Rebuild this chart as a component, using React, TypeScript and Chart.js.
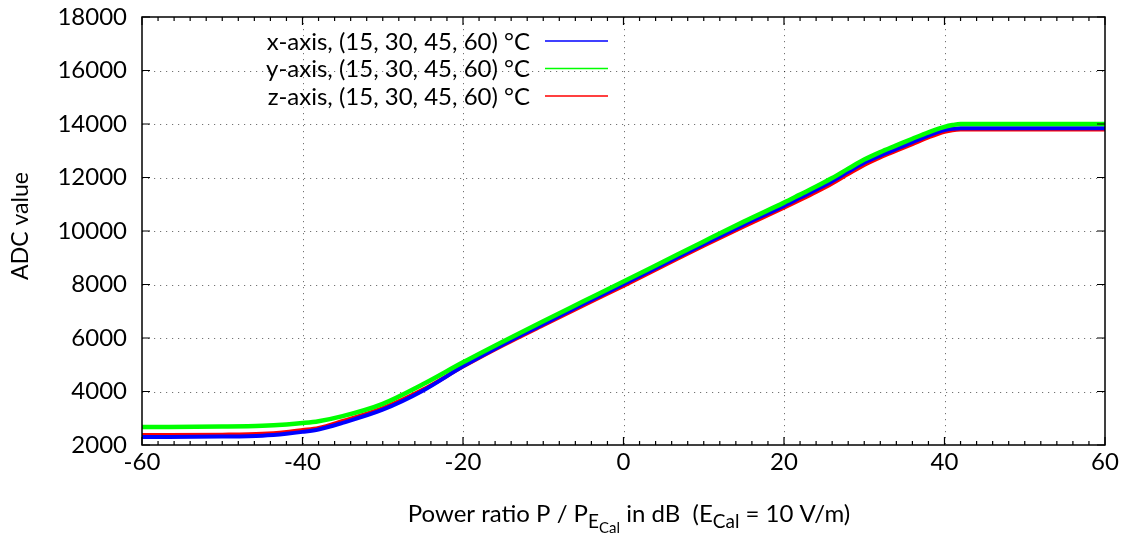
import React, { useEffect, useRef } from "react";
import { Chart, registerables } from "chart.js";

Chart.register(...registerables);

// Power ratio in dB
const DB = [-60, -50, -45, -42, -40, -38, -35, -30, -25, -20, -15, -10, -5, 0, 5, 10, 15, 20, 22, 24, 26, 28, 30, 32, 34, 36, 38, 40, 41, 42, 50, 60];
// ADC values per sensor axis
const X_AXIS_VALUES = [2300, 2315, 2350, 2420, 2490, 2580, 2830, 3320, 4030, 4940, 5760, 6520, 7270, 8010, 8760, 9510, 10240, 10940, 11240, 11540, 11860, 12210, 12550, 12820, 13070, 13320, 13570, 13770, 13820, 13840, 13840, 13840];
const Y_AXIS_VALUES = [2670, 2690, 2720, 2770, 2820, 2890, 3080, 3540, 4270, 5090, 5870, 6630, 7370, 8110, 8860, 9610, 10350, 11060, 11360, 11660, 11980, 12330, 12670, 12950, 13200, 13450, 13690, 13890, 13960, 14000, 14000, 14000];
const Z_AXIS_VALUES = [2370, 2385, 2420, 2490, 2560, 2640, 2900, 3380, 4070, 4930, 5730, 6480, 7220, 7950, 8700, 9450, 10170, 10870, 11160, 11460, 11780, 12130, 12470, 12750, 13000, 13250, 13500, 13710, 13770, 13790, 13790, 13790];

const LEGEND_LABELS = ["x-axis, (15, 30, 45, 60) °C", "y-axis, (15, 30, 45, 60) °C", "z-axis, (15, 30, 45, 60) °C"];
const X_TICKS = [-60, -40, -20, 0, 20, 40, 60];
const Y_TICKS = [2000, 4000, 6000, 8000, 10000, 12000, 14000, 16000, 18000];

const FONT = "Lato";
const FS = 24;
const COLORS = ["#0000ff", "#00ff00", "#ff0000"];

const framePlugin = {
  id: "gnuframe",
  beforeDatasetsDraw(chart: any) {
    const { ctx, chartArea: a, scales } = chart;
    ctx.save();
    ctx.strokeStyle = "rgba(0,0,0,0.55)";
    ctx.lineWidth = 1;
    ctx.setLineDash([1.2, 4.8]);
    X_TICKS.forEach((v) => {
      const px = Math.round(scales.x.getPixelForValue(v)) + 0.5;
      if (px <= a.left + 1 || px >= a.right - 1) return;
      ctx.beginPath();
      ctx.moveTo(px, a.top);
      ctx.lineTo(px, a.bottom);
      ctx.stroke();
    });
    Y_TICKS.forEach((v) => {
      const py = Math.round(scales.y.getPixelForValue(v)) + 0.5;
      if (py <= a.top + 1 || py >= a.bottom - 1) return;
      ctx.beginPath();
      ctx.moveTo(a.left, py);
      ctx.lineTo(a.right, py);
      ctx.stroke();
    });
    ctx.restore();
  },
  afterDatasetsDraw(chart: any) {
    const { ctx, chartArea: a, scales } = chart;
    ctx.save();
    ctx.strokeStyle = "#000";
    ctx.lineWidth = 1.5;
    ctx.setLineDash([]);
    ctx.strokeRect(a.left, a.top, a.right - a.left, a.bottom - a.top);
    ctx.lineWidth = 1.2;
    for (let v = -60; v <= 60; v += 2) {
      const px = scales.x.getPixelForValue(v);
      const len = v % 20 === 0 ? 8 : 4;
      ctx.beginPath();
      ctx.moveTo(px, a.bottom);
      ctx.lineTo(px, a.bottom - len);
      ctx.moveTo(px, a.top);
      ctx.lineTo(px, a.top + len);
      ctx.stroke();
    }
    Y_TICKS.forEach((v) => {
      const py = scales.y.getPixelForValue(v);
      ctx.beginPath();
      ctx.moveTo(a.left, py);
      ctx.lineTo(a.left + 8, py);
      ctx.moveTo(a.right, py);
      ctx.lineTo(a.right - 8, py);
      ctx.stroke();
    });
    ctx.restore();
  },
  afterDraw(chart: any) {
    const { ctx } = chart;
    ctx.save();
    ctx.font = `${FS}px ${FONT}`;
    ctx.fillStyle = "#000";
    ctx.textAlign = "right";
    ctx.textBaseline = "middle";
    const ys = [41, 68.5, 96];
    LEGEND_LABELS.forEach((t, i) => {
      ctx.fillText(t, 530, ys[i] + 1);
      ctx.strokeStyle = COLORS[i];
      ctx.lineWidth = 1.6;
      ctx.beginPath();
      ctx.moveTo(545, ys[i]);
      ctx.lineTo(608, ys[i]);
      ctx.stroke();
    });
    ctx.save();
    ctx.translate(28, 226);
    ctx.rotate(-Math.PI / 2);
    ctx.textAlign = "center";
    ctx.textBaseline = "alphabetic";
    ctx.font = `23px ${FONT}`;
    ctx.fillText("ADC value", 0, 0);
    ctx.restore();
    const parts: [string, number, number][] = [
      ["Power ratio P / P", FS, 0],
      ["E", 19, 6],
      ["Cal", 15, 11],
      [" in dB  (E", FS, 0],
      ["Cal", 19, 6],
      [" = 10 V/m)", FS, 0],
    ];
    ctx.textAlign = "left";
    ctx.textBaseline = "alphabetic";
    let total = 0;
    parts.forEach(([t, s]) => {
      ctx.font = `${s}px ${FONT}`;
      total += ctx.measureText(t).width;
    });
    let x = 629 - total / 2;
    const base = 522;
    parts.forEach(([t, s, dy]) => {
      ctx.font = `${s}px ${FONT}`;
      ctx.fillText(t, x, base + dy);
      x += ctx.measureText(t).width;
    });
    ctx.restore();
  },
};

export default function App() {
  const ref = useRef<HTMLCanvasElement | null>(null);
  useEffect(() => {
    if (!ref.current) return;
    const mk = (arr: number[]) => DB.map((x, i) => ({ x, y: arr[i] }));
    const chart = new Chart(ref.current, {
      type: "line",
      data: {
        datasets: [
          { label: LEGEND_LABELS[1], data: mk(Y_AXIS_VALUES), borderColor: COLORS[1], borderWidth: 4.5, pointRadius: 0, cubicInterpolationMode: "monotone", order: 0 },
          { label: LEGEND_LABELS[0], data: mk(X_AXIS_VALUES), borderColor: COLORS[0], borderWidth: 4, pointRadius: 0, cubicInterpolationMode: "monotone", order: 1 },
          { label: LEGEND_LABELS[2], data: mk(Z_AXIS_VALUES), borderColor: COLORS[2], borderWidth: 4, pointRadius: 0, cubicInterpolationMode: "monotone", order: 2 },
        ],
      },
      options: {
        responsive: false,
        animation: false,
        layout: { padding: { top: 17, right: 25, left: 0, bottom: 0 } },
        plugins: { legend: { display: false }, tooltip: { enabled: false } },
        scales: {
          x: {
            type: "linear",
            min: -60,
            max: 60,
            afterBuildTicks: (s: any) => { s.ticks = X_TICKS.map((v) => ({ value: v })); },
            afterFit: (s: any) => { s.height = 88; s.paddingLeft = 0; s.paddingRight = 0; },
            grid: { display: false, drawTicks: false },
            border: { display: false },
            ticks: { color: "#000", font: { family: FONT, size: FS }, padding: 3, maxRotation: 0, autoSkip: false, callback: (v: any) => String(v) },
          },
          y: {
            type: "linear",
            min: 2000,
            max: 18000,
            afterBuildTicks: (s: any) => { s.ticks = Y_TICKS.map((v) => ({ value: v })); },
            afterFit: (s: any) => { s.width = 142; s.paddingTop = 0; s.paddingBottom = 0; },
            grid: { display: false, drawTicks: false },
            border: { display: false },
            ticks: { color: "#000", font: { family: FONT, size: FS }, padding: 15, callback: (v: any) => String(v) },
          },
        },
      } as any,
      plugins: [framePlugin],
    });
    return () => chart.destroy();
  }, []);
  return (
    <div style={{ position: "absolute", left: 0, top: 0, width: 1130, height: 533, background: "#fff" }}>
      <canvas ref={ref} width={1130} height={533} style={{ width: 1130, height: 533 }} />
    </div>
  );
}
